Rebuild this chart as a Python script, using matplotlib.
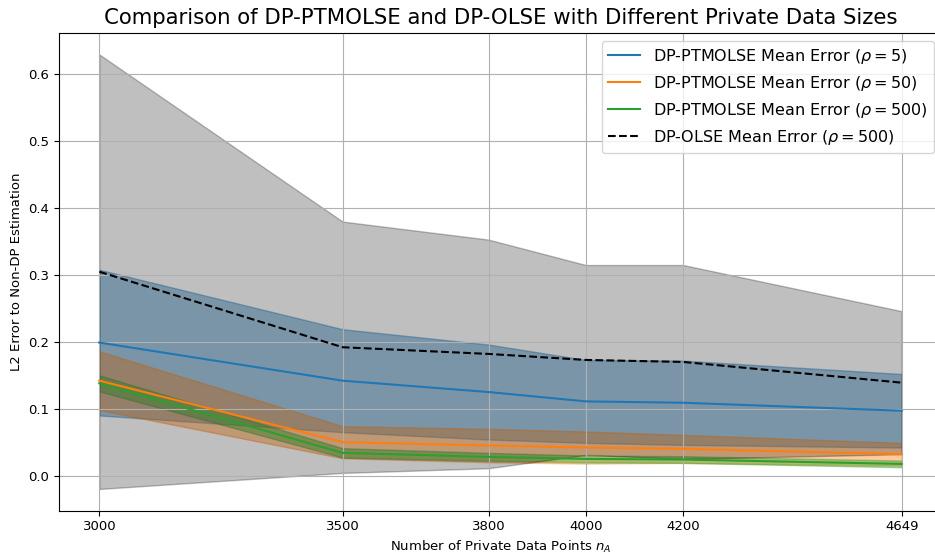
import matplotlib
matplotlib.use("Agg")
import matplotlib.pyplot as plt
import numpy as np

n_A = [3000, 3500, 3800, 4000, 4200, 4649]

# DP-PTMOLSE mean errors and std for each rho
mean_rho5 = [0.199, 0.142, 0.125, 0.111, 0.109, 0.097]
std_rho5 = [0.109, 0.077, 0.071, 0.062, 0.063, 0.055]
mean_rho50 = [0.142, 0.050, 0.045, 0.042, 0.040, 0.032]
std_rho50 = [0.044, 0.024, 0.025, 0.024, 0.021, 0.017]
mean_rho500 = [0.138, 0.034, 0.028, 0.025, 0.024, 0.0175]
std_rho500 = [0.012, 0.007, 0.006, 0.005, 0.005, 0.005]

# DP-OLSE
mean_olse = [0.305, 0.192, 0.182, 0.173, 0.170, 0.139]
std_olse = [0.325, 0.188, 0.171, 0.142, 0.145, 0.107]

labels = [r"DP-PTMOLSE Mean Error ($\rho=5$)",
          r"DP-PTMOLSE Mean Error ($\rho=50$)",
          r"DP-PTMOLSE Mean Error ($\rho=500$)"]

plt.rcParams["font.size"] = 9.5

fig = plt.figure(figsize=(9.35, 5.58), dpi=100)
ax = fig.add_axes([59.2 / 935, 1 - 510.7 / 558, (941.8 - 59.2) / 935, (510.7 - 32.7) / 558])

x = np.array(n_A)
for m, s, lab, c in zip([mean_rho5, mean_rho50, mean_rho500],
                        [std_rho5, std_rho50, std_rho500],
                        labels, ["C0", "C1", "C2"]):
    m = np.array(m); s = np.array(s)
    ax.plot(x, m, color=c, label=lab, linewidth=1.5)
    ax.fill_between(x, m - s, m + s, color=c, alpha=0.4)

mo = np.array(mean_olse); so = np.array(std_olse)
ax.plot(x, mo, "k--", label=r"DP-OLSE Mean Error ($\rho=500$)", linewidth=1.5)
ax.fill_between(x, mo - so, mo + so, color="k", alpha=0.25)

ax.set_xticks(n_A)
ax.set_xticklabels([str(v) for v in n_A])
ax.set_xlim(2917.55, 4731.45)
ax.set_ylim(-0.0525, 0.6625)
ax.grid(True)
ax.set_title("Comparison of DP-PTMOLSE and DP-OLSE with Different Private Data Sizes", fontsize=15.3)
ax.set_xlabel(r"Number of Private Data Points $n_A$")
ax.set_ylabel("L2 Error to Non-DP Estimation")
ax.legend(loc="upper right", fontsize=11.5)

fig.savefig("out.png", dpi=100)
